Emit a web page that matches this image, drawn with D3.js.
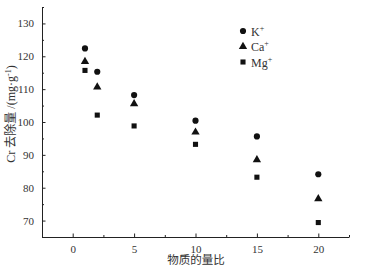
<!DOCTYPE html>
<html>
<head>
<meta charset="utf-8">
<script src="https://cdn.jsdelivr.net/npm/d3@7"></script>
<style>
  html, body { margin: 0; padding: 0; background: #fff; }
  svg { display: block; }
  .axis path, .axis line { stroke: #222; stroke-width: 1; }
  .axis text { font-family: "Liberation Serif", "DejaVu Serif", serif; font-size: 11px; fill: #333; }
  .label { font-family: "Liberation Serif", "Noto Sans CJK SC", serif; fill: #333; }
</style>
</head>
<body>
<div id="chart"></div>
<script>
const ratios = [1, 2, 5, 10, 15, 20];
const kValues = [122.4, 115.3, 108.2, 100.4, 95.6, 84.1];
const caValues = [118.4, 110.6, 105.5, 96.9, 88.5, 76.6];
const mgValues = [115.7, 102.1, 98.8, 93.2, 83.2, 69.4];
const xTicks = [0, 5, 10, 15, 20];
const yTicks = [70, 80, 90, 100, 110, 120, 130];

const series = [
  { name: "K", values: kValues, symbol: d3.symbolCircle, size: 30 },
  { name: "Ca", values: caValues, symbol: d3.symbolTriangle, size: 30 },
  { name: "Mg", values: mgValues, symbol: d3.symbolSquare, size: 26 },
];

const width = 369;
const height = 272;
const margin = { top: 7, right: 20, bottom: 35, left: 42 };

const svg = d3.select("#chart").append("svg")
  .attr("width", width)
  .attr("height", height);

const x = d3.scaleLinear()
  .domain([-2.5, 22.5])
  .range([margin.left, width - margin.right]);

const y = d3.scaleLinear()
  .domain([65, 135])
  .range([height - margin.bottom, margin.top]);

// minor ticks first
svg.append("g")
  .attr("class", "axis")
  .attr("transform", `translate(0,${height - margin.bottom})`)
  .call(d3.axisBottom(x).tickValues(d3.range(-2.5, 22.6, 5)).tickSize(-2).tickFormat(""))
  .call((g) => g.select(".domain").remove());

svg.append("g")
  .attr("class", "axis")
  .attr("transform", `translate(${margin.left},0)`)
  .call(d3.axisLeft(y).tickValues(d3.range(65, 136, 10)).tickSize(-2).tickFormat(""))
  .call((g) => g.select(".domain").remove());

svg.append("g")
  .attr("class", "axis")
  .attr("transform", `translate(0,${height - margin.bottom})`)
  .call(d3.axisBottom(x).tickValues(xTicks).tickSizeInner(-3.5).tickSizeOuter(0).tickPadding(8));

svg.append("g")
  .attr("class", "axis")
  .attr("transform", `translate(${margin.left},0)`)
  .call(d3.axisLeft(y).tickValues(yTicks).tickSizeInner(-3.5).tickSizeOuter(0).tickPadding(8));

// points
series.forEach((s) => {
  svg.append("g")
    .selectAll("path")
    .data(s.values)
    .join("path")
    .attr("d", d3.symbol().type(s.symbol).size(s.size))
    .attr("transform", (d, i) => `translate(${x(ratios[i])},${y(d)})`)
    .attr("fill", "#111");
});

// legend
const legend = svg.append("g").attr("transform", "translate(243,31)");
series.forEach((s, i) => {
  const row = legend.append("g").attr("transform", `translate(0,${i * 15.5})`);
  row.append("path")
    .attr("d", d3.symbol().type(s.symbol).size(s.size))
    .attr("fill", "#111");
  const t = row.append("text")
    .attr("class", "label")
    .attr("x", 8)
    .attr("y", 4.5)
    .attr("font-size", 12);
  t.append("tspan").text(s.name);
  t.append("tspan").attr("dy", -5).attr("font-size", 8).text("+");
});

// axis titles
svg.append("text")
  .attr("class", "label")
  .attr("x", 196)
  .attr("y", 264)
  .attr("text-anchor", "middle")
  .attr("font-size", 11.5)
  .attr("font-family", "Noto Sans CJK SC")
  .text("物质的量比");

const yl = svg.append("text")
  .attr("class", "label")
  .attr("transform", "translate(15,114) rotate(-90)")
  .attr("text-anchor", "middle")
  .attr("font-size", 12);
yl.append("tspan").text("Cr ");
yl.append("tspan").attr("font-family", "Noto Sans CJK SC").text("去除量");
yl.append("tspan").text(" /(mg·g");
yl.append("tspan").attr("dy", -4).attr("font-size", 8).text("-1");
yl.append("tspan").attr("dy", 4).text(")");
</script>
</body>
</html>
